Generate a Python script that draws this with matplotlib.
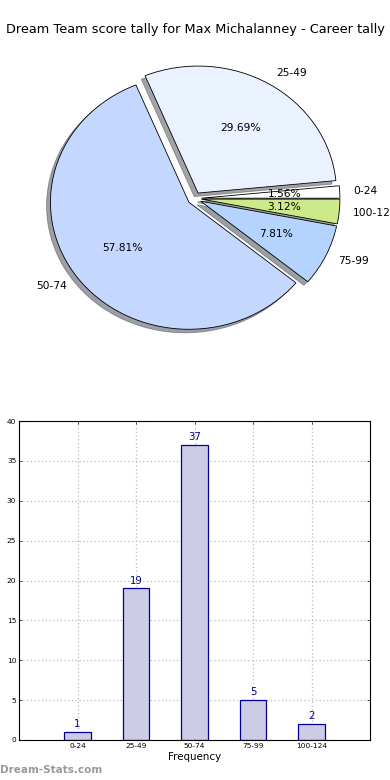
import matplotlib
matplotlib.use("Agg")
import matplotlib.pyplot as plt
import numpy as np

categories = ["0-24", "25-49", "50-74", "75-99", "100-124"]
counts = [1, 19, 37, 5, 2]
pie_colors = ["#ffffff", "#eaf1ff", "#c4d8ff", "#b4d4ff", "#cdea8a"]
title = "Dream Team score tally for Max Michalanney - Career tally"

fig = plt.figure(figsize=(3.9, 7.8), dpi=100)

# Pie chart: 1 data unit = rx px horizontally, ry px vertically
rx, ry, cx, cy = 138.5, 127.0, 194.5, 198.5
axp = fig.add_axes([(cx - 1.3*rx)/390, (780 - (cy + 1.3*ry))/780,
                    2.6*rx/390, 2.6*ry/780])
wedges, texts, autotexts = axp.pie(
    counts, labels=categories, colors=pie_colors, explode=[0.05]*len(counts),
    autopct="%1.2f%%", shadow=True, startangle=0, labeldistance=1.1,
    pctdistance=0.6, wedgeprops=dict(edgecolor="black", linewidth=0.6),
    textprops=dict(fontsize=7.7))
axp.set_aspect("auto")
axp.set_xlim(-1.3, 1.3)
axp.set_ylim(-1.3, 1.3)
axp.axis("off")
fig.text(0.5, 1 - 30/780, title, ha="center", va="center", fontsize=9.3)

# Bar chart
axb = fig.add_axes([19/390, 40/780, 351/390, 319/780])
x = np.arange(1, len(categories) + 1)
bars = axb.bar(x, counts, width=0.45, color="#ccccE6", edgecolor="#000099",
               linewidth=0.9, align="center", zorder=2)
for xi, c in zip(x, counts):
    axb.text(xi, c + 0.35, str(c), ha="center", va="bottom", fontsize=7.3,
             color="#000099")
axb.set_xlim(0, 6)
axb.set_ylim(0, 40)
axb.set_xticks(x)
axb.set_xticklabels(categories)
axb.set_yticks(np.arange(0, 41, 5))
axb.tick_params(labelsize=5.3, direction="in", length=2, top=True, right=True,
                width=0.5, pad=2)
axb.grid(True, linestyle=(0, (1, 2)), color="#bbbbbb", linewidth=0.9, zorder=0)
axb.set_xlabel("Frequency", fontsize=7.4, labelpad=2)
for s in axb.spines.values():
    s.set_linewidth(0.8)

fig.text(0.0, 1 - 770/780, "Dream-Stats.com", ha="left", va="center",
         fontsize=7.5, fontweight="bold", color="#999999")

fig.savefig("out.png", dpi=100)
